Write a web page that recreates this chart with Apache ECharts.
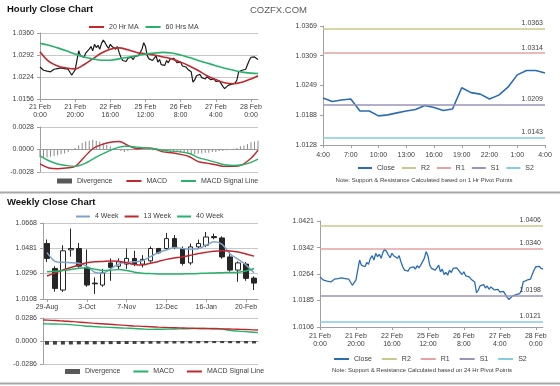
<!DOCTYPE html>
<html><head><meta charset="utf-8">
<script src="https://cdn.jsdelivr.net/npm/echarts@6/dist/echarts.min.js"></script>
<style>html,body{margin:0;padding:0;background:#fff}#c{width:560px;height:386px}</style>
</head><body><div id="c"></div>
<script>
// ---------- DATA ----------
const hourDays = [['21 Feb',24],['22 Feb',24],['25 Feb',24],['26 Feb',24],['27 Feb',24],['28 Feb',5]];
const hourCats = [];
hourDays.forEach(([d,n]) => { for (let h = 0; h < n; h++) hourCats.push(d + '\n' + h + ':00'); });

const hourCloses = [
 1.0255,1.0250,1.0245,1.0248,1.0242,1.0246,1.0240,1.0244,
 1.0248,1.0244,1.0250,1.0246,
 1.0252,1.0256,1.0250,1.0255,1.0248,1.0252,
 1.0230,
 1.0238,1.0246,1.0250,
 1.0305,
 1.0290,1.0295,1.0285,1.0298,1.0292,
 1.0310,1.0318,1.0305,1.0325,1.0315,1.0322,1.0310,1.0328,
 1.0338,
 1.0330,1.0320,1.0312,1.0325,1.0318,1.0322,1.0310,1.0318,
 1.0300,1.0285,1.0275,1.0280,1.0272,
 1.0282,1.0280,1.0285,1.0278,1.0288,1.0282,1.0290,1.0295,
 1.0310,1.0330,1.0318,
 1.0290,1.0280,1.0285,1.0275,1.0282,1.0290,
 1.0270,1.0278,1.0262,1.0268,1.0260,1.0275,1.0268,1.0280,
 1.0278,1.0282,1.0275,
 1.0268,1.0262,1.0270,1.0258,1.0262,1.0255,
 1.0248,1.0245,1.0240,
 1.0208,1.0215,
 1.0228,1.0225,1.0232,1.0222,1.0228,1.0218,1.0225,1.0220,1.0216,
 1.0214,1.0218,1.0210,1.0215,1.0212,1.0208,
 1.0195,1.0188,1.0192,
 1.0198,1.0195,1.0202,1.0198,1.0205,
 1.0215,1.0240,1.0238,
 1.0245,1.0240,1.0248,
 1.0262,1.0275,
 1.0285,1.0290,1.0286,
 1.0280,1.0278
];
const maIdx = [0,5,10,15,20,25,30,35,40,45,50,55,60,65,70,75,80,85,90,95,100,105,110,115,120,124];
const ma20 = [1.0302,1.0272,1.0258,1.0252,1.0249,1.0262,1.0280,1.0298,1.0310,1.0314,1.0308,1.0300,1.0296,1.0292,1.0286,1.0280,1.0270,1.0258,1.0244,1.0228,1.0216,1.0206,1.0203,1.0208,1.0218,1.0228];
const ma60 = [1.0328,1.0322,1.0314,1.0305,1.0295,1.0286,1.0280,1.0276,1.0276,1.0280,1.0285,1.0290,1.0295,1.0298,1.0300,1.0298,1.0292,1.0284,1.0275,1.0267,1.0259,1.0251,1.0245,1.0239,1.0236,1.0235];
const macdH = [-0.0018,-0.0023,-0.0024,-0.0023,-0.0021,-0.0010,0.0001,0.0006,0.0009,0.0010,0.0005,0.0001,0.0002,0.0001,-0.0003,-0.0004,-0.0006,-0.0009,-0.0015,-0.0017,-0.0019,-0.0021,-0.0021,-0.0019,-0.0011,-0.0001];
const signalH = [-0.0008,-0.0014,-0.0018,-0.0020,-0.0021,-0.0018,-0.0012,-0.0006,-0.0001,0.0003,0.0004,0.0003,0.0002,0.0001,-0.0001,-0.0002,-0.0003,-0.0005,-0.0010,-0.0013,-0.0016,-0.0019,-0.0020,-0.0019,-0.0016,-0.0012];
const divStep = 2;
const divH = [
 -0.0010,-0.0011,-0.0010,-0.0009,-0.0008,-0.0007,-0.0006,-0.0005,-0.0003,-0.0001,
 0.0002,0.0005,0.0008,0.0010,0.0011,0.0012,0.0011,0.0010,0.0008,0.0006,
 0.0004,0.0002,0.0000,-0.0002,-0.0003,-0.0002,-0.0001,0.0000,0.0001,0.0002,
 0.0001,0.0000,-0.0001,-0.0001,-0.0002,-0.0002,-0.0003,-0.0003,-0.0002,-0.0003,
 -0.0004,-0.0004,-0.0005,-0.0006,-0.0006,-0.0005,-0.0005,-0.0004,-0.0004,-0.0003,
 -0.0003,-0.0002,-0.0002,-0.0001,0.0000,0.0001,0.0002,0.0004,0.0005,0.0007,
 0.0009,0.0010,0.0011
];
const hPriceTicks = [1.0156,1.0224,1.0292,1.0360];
const hMacdTicks = [-0.0028,0.0000,0.0028];

const pivotCats = ['4:00','5:00','6:00','7:00','8:00','9:00','10:00','11:00','12:00','13:00','14:00','15:00','16:00','17:00','18:00','19:00','20:00','21:00','22:00','23:00','0:00','1:00','2:00','3:00','4:00'];
const pivotCloses = [1.0223,1.0216,1.0219,1.0221,1.0197,1.0197,1.0187,1.0189,1.0193,1.0197,1.0200,1.0208,1.0204,1.0198,1.0201,1.0244,1.0234,1.0231,1.0221,1.0229,1.0245,1.0270,1.0279,1.0279,1.0274];
const pivotNames = ['R2','R1','S1','S2'];
const pivotsHour = [1.0363,1.0314,1.0209,1.0143];
const pivotsDay = [1.0406,1.0340,1.0198,1.0121];
const pHourTicks = [1.0128,1.0188,1.0249,1.0309,1.0369];
const pDayTicks = [1.0106,1.0185,1.0264,1.0342,1.0421];

const weekCats = ['29-Aug','5-Sep','12-Sep','19-Sep','26-Sep','3-Oct','10-Oct','17-Oct','24-Oct','31-Oct','7-Nov','14-Nov','21-Nov','28-Nov','5-Dec','12-Dec','19-Dec','26-Dec','2-Jan','9-Jan','16-Jan','23-Jan','30-Jan','6-Feb','13-Feb','20-Feb','27-Feb'];
const wOpen  = [1.0517,1.0333,1.0174,1.0470,1.0480,1.0341,1.0225,1.0211,1.0374,1.0350,1.0365,1.0407,1.0365,1.0389,1.0480,1.0480,1.0553,1.0480,1.0374,1.0492,1.0504,1.0568,1.0558,1.0418,1.0321,1.0365,1.0262];
const wClose = [1.0407,1.0186,1.0463,1.0480,1.0350,1.0211,1.0220,1.0301,1.0341,1.0382,1.0407,1.0365,1.0400,1.0480,1.0448,1.0553,1.0487,1.0370,1.0492,1.0517,1.0565,1.0560,1.0418,1.0321,1.0374,1.0260,1.0225];
const wLow   = [1.0380,1.0162,1.0160,1.0420,1.0340,1.0198,1.0145,1.0198,1.0242,1.0321,1.0330,1.0350,1.0340,1.0375,1.0440,1.0470,1.0475,1.0355,1.0360,1.0480,1.0490,1.0548,1.0405,1.0310,1.0235,1.0242,1.0174];
const wHigh  = [1.0546,1.0350,1.0504,1.0627,1.0521,1.0473,1.0267,1.0330,1.0407,1.0407,1.0480,1.0463,1.0431,1.0495,1.0485,1.0595,1.0578,1.0495,1.0517,1.0546,1.0602,1.0590,1.0570,1.0455,1.0385,1.0380,1.0275];
const ma4  = [1.0450,1.0385,1.0378,1.0376,1.0372,1.0350,1.0305,1.0298,1.0330,1.0365,1.0378,1.0382,1.0390,1.0420,1.0450,1.0470,1.0487,1.0480,1.0476,1.0478,1.0505,1.0529,1.0510,1.0440,1.0400,1.0358,1.0301];
const ma13 = [1.0277,1.0300,1.0322,1.0340,1.0358,1.0375,1.0382,1.0385,1.0388,1.0386,1.0375,1.0362,1.0358,1.0372,1.0385,1.0400,1.0410,1.0418,1.0430,1.0443,1.0452,1.0460,1.0463,1.0462,1.0455,1.0440,1.0424];
const ma40 = [1.0308,1.0312,1.0318,1.0325,1.0335,1.0338,1.0328,1.0318,1.0320,1.0326,1.0318,1.0305,1.0298,1.0295,1.0293,1.0292,1.0292,1.0293,1.0294,1.0296,1.0298,1.0300,1.0302,1.0303,1.0305,1.0315,1.0333];
const wMacd   = [0.0215,0.0212,0.0210,0.0207,0.0197,0.0187,0.0181,0.0175,0.0170,0.0165,0.0160,0.0156,0.0150,0.0144,0.0146,0.0148,0.0150,0.0152,0.0154,0.0156,0.0156,0.0156,0.0142,0.0128,0.0120,0.0112,0.0104];
const wSignal = [0.0262,0.0257,0.0251,0.0246,0.0238,0.0230,0.0222,0.0215,0.0208,0.0201,0.0194,0.0187,0.0182,0.0177,0.0172,0.0168,0.0165,0.0162,0.0159,0.0156,0.0154,0.0152,0.0150,0.0148,0.0145,0.0141,0.0136];
const wDiv = [-0.0046,-0.0045,-0.0044,-0.0043,-0.0042,-0.0042,-0.0041,-0.0040,-0.0039,-0.0038,-0.0037,-0.0036,-0.0035,-0.0034,-0.0033,-0.0032,-0.0031,-0.0030,-0.0029,-0.0028,-0.0027,-0.0026,-0.0026,-0.0027,-0.0028,-0.0029,-0.0030];
const wPriceTicks = [1.0108,1.0296,1.0481,1.0668];
const wMacdTicks = [-0.0286,0.0000,0.0286];

// ---------- STYLE ----------
const FONT = 'Liberation Sans, Arial, sans-serif';
const RED = '#c0282e', GREEN = '#27b26b', BLUE = '#2a6db3', LBLUE = '#7fa3c8', DARK = '#262626';
const pivotColors = ['#c9c98c','#e3a3a3','#9d93b8','#86cbe0'];
const axisCol = '#a0a0a0', gridCol = '#c8c8c8', txtCol = '#404040';
const lab = {color: txtCol, fontSize: 7, fontFamily: FONT};

function yAx(grid, ticks, split) {
  return {
    type: 'value', gridIndex: grid, min: ticks[0], max: ticks[ticks.length - 1], scale: true,
    axisLine: {show: true, lineStyle: {color: axisCol}},
    axisTick: {show: true, length: 3, customValues: ticks, lineStyle: {color: axisCol}},
    axisLabel: Object.assign({customValues: ticks, margin: 6, formatter: v => v.toFixed(4)}, lab),
    splitLine: {show: split, lineStyle: {color: gridCol}}
  };
}
function xAx(grid, cats, step, gap, show, marginPx) {
  const f = i => i % step === 0;
  return {
    type: 'category', gridIndex: grid, data: cats, boundaryGap: gap, show: show !== false,
    axisLine: {show: true, onZero: true, lineStyle: {color: axisCol}},
    axisTick: {show: step > 0, interval: f, length: 3, alignWithLabel: true, lineStyle: {color: axisCol}},
    axisLabel: Object.assign({show: step > 0, interval: f, margin: marginPx || 4, lineHeight: 8}, lab),
    splitLine: {show: false}
  };
}
function lineS(name, xi, yi, data, color, width, smooth, z) {
  return {name, type: 'line', xAxisIndex: xi, yAxisIndex: yi, data, color, symbol: 'none', showSymbol: false,
    smooth: smooth || false, lineStyle: {color, width}, z: z || 2, animation: false, silent: true};
}
function pivotSeries(names, vals, xi, yi, suffix) {
  return names.map((n, i) => ({
    name: n + suffix, type: 'line', xAxisIndex: xi, yAxisIndex: yi, data: [], color: pivotColors[i],
    symbol: 'none', lineStyle: {color: pivotColors[i], width: 1.5}, animation: false,
    markLine: {silent: true, symbol: 'none', animation: false, precision: 4,
      lineStyle: {color: pivotColors[i], width: 1.5, type: 'solid'},
      label: {show: true, position: 'insideEndTop', formatter: () => vals[i].toFixed(4), color: txtCol, fontSize: 7, fontFamily: FONT, distance: 2},
      data: [{yAxis: vals[i]}]}
  }));
}
function legend(left, top, names, gap, iw, extra) {
  return {left, top, padding: 0, itemWidth: iw, itemHeight: 5, itemGap: gap, selectedMode: false,
    itemStyle: {opacity: 0},
    textStyle: {color: txtCol, fontSize: 7, fontFamily: FONT},
    data: names.map(n => (extra && extra[n]) ? Object.assign({name: n}, extra[n]) : n)};
}
const divIcon = {itemStyle: {opacity: 1, color: '#595959'}, icon: 'rect'};

const chart = echarts.init(document.getElementById('c'), null, {renderer: 'canvas'});
const option = {
  backgroundColor: '#ffffff',
  animation: false,
  textStyle: {fontFamily: FONT},
  title: [
    {text: 'Hourly Close Chart', left: 7, top: 4, padding: 0, textStyle: {fontSize: 9.5, fontWeight: 'bold', color: '#111', fontFamily: FONT}},
    {text: 'COZFX.COM', left: 250, top: 5, padding: 0, textStyle: {fontSize: 9.5, fontWeight: 'normal', color: '#5a5a5a', fontFamily: FONT}},
    {text: 'Weekly Close Chart', left: 7, top: 197, padding: 0, textStyle: {fontSize: 9.5, fontWeight: 'bold', color: '#111', fontFamily: FONT}}
  ],
  grid: [
    {left: 40, top: 33, width: 218, height: 66},
    {left: 40, top: 127, width: 218, height: 45},
    {left: 323, top: 26, width: 222, height: 119},
    {left: 43, top: 223, width: 215, height: 76},
    {left: 43, top: 318, width: 215, height: 46},
    {left: 320, top: 221, width: 223, height: 106}
  ],
  xAxis: [
    xAx(0, hourCats, 20, false),
    xAx(1, hourCats, 0, false),
    xAx(2, pivotCats, 3, false, true, 6),
    xAx(3, weekCats, 5, true),
    xAx(4, weekCats, 0, true),
    xAx(4, weekCats, 0, false, false),
    xAx(5, hourCats, 20, false, true, 5)
  ],
  yAxis: [
    yAx(0, hPriceTicks, true),
    yAx(1, hMacdTicks, true),
    yAx(2, pHourTicks, false),
    yAx(3, wPriceTicks, true),
    yAx(4, wMacdTicks, true),
    yAx(5, pDayTicks, false)
  ],
  legend: [
    legend(88, 23.5, ['20 Hr MA', '60 Hrs MA'], 6, 15),
    legend(57, 177.5, ['Divergence', 'MACD', 'MACD Signal Line'], 13, 15, {'Divergence': divIcon}),
    legend(357, 164.5, ['Close', 'R2', 'R1', 'S1', 'S2'], 6, 14),
    legend(75, 213, ['4 Week', '13 Week', '40 Week'], 5, 14),
    legend(65, 368, ['Divergence ', 'MACD ', 'MACD Signal Line '], 10, 15, {'Divergence ': divIcon}),
    legend(333, 355.5, ['Close ', 'R2 ', 'R1 ', 'S1 ', 'S2 '], 7, 15)
  ],
  series: [
    lineS('hourly', 0, 0, hourCloses, '#1a1a1a', 1.2, false, 1),
    lineS('20 Hr MA', 0, 0, maIdx.map((x, i) => [x, ma20[i]]), RED, 1.6, 0.35, 3),
    lineS('60 Hrs MA', 0, 0, maIdx.map((x, i) => [x, ma60[i]]), GREEN, 1.6, 0.35, 3),
    {name: 'Divergence', type: 'bar', xAxisIndex: 1, yAxisIndex: 1, barWidth: 1, color: '#8a8a8a',
      data: divH.map((v, k) => [k * divStep, v]), animation: false, silent: true},
    lineS('MACD', 1, 1, maIdx.map((x, i) => [x, macdH[i]]), RED, 1.4, 0.35, 3),
    lineS('MACD Signal Line', 1, 1, maIdx.map((x, i) => [x, signalH[i]]), GREEN, 1.4, 0.35, 3),

    lineS('Close', 2, 2, pivotCloses, BLUE, 1.6, false, 4),
    ...pivotSeries(pivotNames, pivotsHour, 2, 2, ''),

    {name: 'weekly', type: 'candlestick', xAxisIndex: 3, yAxisIndex: 3, barWidth: 5, animation: false, silent: true, z: 2,
      data: weekCats.map((_, i) => [wOpen[i], wClose[i], wLow[i], wHigh[i]]),
      itemStyle: {color: '#ffffff', color0: DARK, borderColor: DARK, borderColor0: DARK, borderWidth: 1}},
    lineS('4 Week', 3, 3, ma4, LBLUE, 1.5, 0.25, 3),
    lineS('13 Week', 3, 3, ma13, RED, 1.5, 0.25, 3),
    lineS('40 Week', 3, 3, ma40, GREEN, 1.5, 0.25, 3),
    {name: 'Divergence ', type: 'bar', xAxisIndex: 4, yAxisIndex: 4, barWidth: 4, color: '#404040',
      data: wDiv, animation: false, silent: true},
    lineS('MACD ', 5, 4, wMacd, GREEN, 1.4, 0.3, 3),
    lineS('MACD Signal Line ', 5, 4, wSignal, RED, 1.4, 0.3, 3),

    lineS('Close ', 6, 5, hourCloses, BLUE, 1.3, false, 4),
    ...pivotSeries(pivotNames, pivotsDay, 6, 5, ' ')
  ],
  graphic: [
    {type: 'rect', shape: {x: 0, y: 191.5, width: 560, height: 2}, style: {fill: '#a8a8a8'}, silent: true},
    {type: 'rect', shape: {x: 0, y: 382.5, width: 560, height: 2}, style: {fill: '#a8a8a8'}, silent: true},
    {type: 'text', x: 424, y: 177, silent: true, style: {text: 'Note: Support & Resistance Calculated based on 1 Hr Pivot Points', fill: txtCol, fontSize: 6, fontFamily: FONT, textAlign: 'center'}},
    {type: 'text', x: 422, y: 367, silent: true, style: {text: 'Note: Support & Resistance Calculated based on 24 Hr Pivot Points', fill: txtCol, fontSize: 6, fontFamily: FONT, textAlign: 'center'}}
  ]
};
chart.setOption(option);
</script></body></html>
